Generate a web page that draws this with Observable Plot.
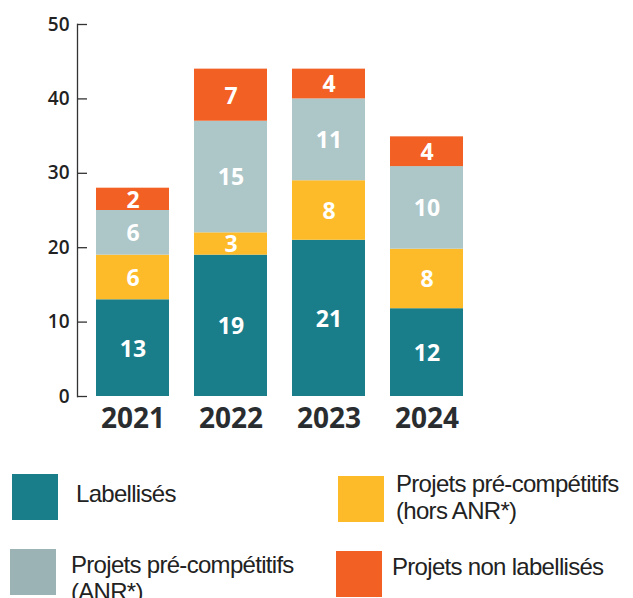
<!DOCTYPE html>
<html><head><meta charset="utf-8">
<script src="https://cdn.jsdelivr.net/npm/d3@7"></script>
<script src="https://cdn.jsdelivr.net/npm/@observablehq/plot@0.6"></script>
<style>
body{margin:0;background:#fff;}
#wrap{position:relative;width:633px;height:598px;overflow:hidden;font-family:"Liberation Sans",Arial,sans-serif;}
#chart{position:absolute;left:0;top:0;}
.sw{position:absolute;width:46px;height:46px;}
.lt{position:absolute;font-size:24px;line-height:27px;letter-spacing:-0.7px;color:#222;white-space:nowrap;}
</style></head>
<body><div id="wrap"><div id="chart"></div><div id="legend"></div></div>
<script>
const years = ["2021", "2022", "2023", "2024"];
const categories = ["Labellisés", "Projets pré-compétitifs (hors ANR*)", "Projets pré-compétitifs (ANR*)", "Projets non labellisés"];
const colors = ["#1a7e8a", "#fdbb29", "#adc6c8", "#f26024"];
const legendColors = ["#1a7e8a", "#fdbb29", "#9cb3b6", "#f26024"];
// segment heights as drawn in the picture
const labellises = [13, 19, 21, 11.8];
const horsANR = [6, 3, 8, 8];
const anr = [6, 15, 11, 11.1];
const nonLabellises = [3, 7, 4, 4];
// numbers printed on the segments
const labelsLabellises = [13, 19, 21, 12];
const labelsHorsANR = [6, 3, 8, 8];
const labelsANR = [6, 15, 11, 10];
const labelsNonLabellises = [2, 7, 4, 4];
const yTicks = [0, 10, 20, 30, 40, 50];

const series = [labellises, horsANR, anr, nonLabellises];
const seriesLabels = [labelsLabellises, labelsHorsANR, labelsANR, labelsNonLabellises];
const data = [];
categories.forEach((c, i) => years.forEach((y, j) => data.push({year: y, cat: c, value: series[i][j], label: seriesLabels[i][j]})));

const chart = Plot.plot({
  width: 633, height: 445,
  marginTop: 24, marginBottom: 49, marginLeft: 77, marginRight: 0,
  style: {fontFamily: "'Open Sans', sans-serif", color: "#222", background: "white"},
  x: {domain: years, range: [71, 488], padding: 0.255, label: null},
  y: {domain: [0, 50], label: null},
  color: {domain: categories, range: colors},
  marks: [
    Plot.barY(data, {x: "year", y: "value", fill: "cat", order: categories}),
    Plot.text(data, Plot.stackY({x: "year", y: "value", z: "cat", order: categories, text: "label",
      fill: "white", fontSize: 23, fontWeight: 700, dy: 1})),
    Plot.axisY({ticks: yTicks, tickSize: -10, tickPadding: 18, fontSize: 19, fontWeight: 600, strokeWidth: 1.3, stroke: "#333", fill: "#222"}),
    Plot.axisX({tickSize: 0, tickPadding: 12, fontSize: 28, fontWeight: 700, fill: "#2a2d30"}),
    Plot.frame({anchor: "left", stroke: "#333", strokeWidth: 1.3})
  ]
});
document.getElementById("chart").appendChild(chart);

const legendItems = [
  {i: 0, sx: 12, sy: 474, tx: 76, ty: 479.5, text: "Labellisés"},
  {i: 2, sx: 10, sy: 549, tx: 71, ty: 550.5, text: "Projets pré-compétitifs<br>(ANR*)"},
  {i: 1, sx: 338, sy: 476, tx: 396, ty: 469.5, text: "Projets pré-compétitifs<br>(hors ANR*)"},
  {i: 3, sx: 336, sy: 551, tx: 392, ty: 552.5, text: "Projets non labellisés"}
];
const leg = document.getElementById("legend");
legendItems.forEach(d => {
  const s = document.createElement("div");
  s.className = "sw"; s.style.left = d.sx + "px"; s.style.top = d.sy + "px"; s.style.background = legendColors[d.i];
  leg.appendChild(s);
  const t = document.createElement("div");
  t.className = "lt"; t.style.left = d.tx + "px"; t.style.top = d.ty + "px"; t.innerHTML = d.text;
  leg.appendChild(t);
});
</script>
</body></html>
